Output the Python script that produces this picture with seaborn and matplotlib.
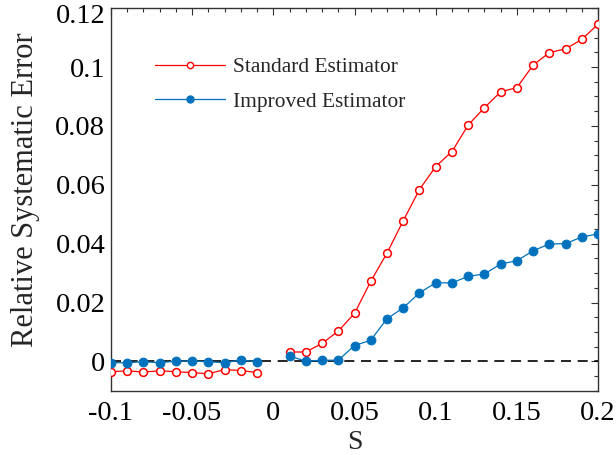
import numpy as np
import pandas as pd
import matplotlib
matplotlib.use("Agg")
import matplotlib.pyplot as plt
import seaborn as sns
from matplotlib.ticker import MultipleLocator, FuncFormatter
from matplotlib.lines import Line2D
import matplotlib.transforms as mtransforms

# Data
s_neg = [-0.10, -0.09, -0.08, -0.07, -0.06, -0.05, -0.04, -0.03, -0.02, -0.01]
s_pos = [0.01, 0.02, 0.03, 0.04, 0.05, 0.06, 0.07, 0.08, 0.09, 0.10,
         0.11, 0.12, 0.13, 0.14, 0.15, 0.16, 0.17, 0.18, 0.19, 0.20]
std_neg = [-0.0035, -0.0032, -0.0036, -0.0032, -0.0035, -0.0038, -0.0042, -0.0028, -0.0031, -0.0038]
imp_neg = [-0.00045, -0.00045, -0.0001, -0.00045, 0.0001, 0.0001, -0.0001, -0.00045, 0.00045, -0.0001]
std_pos = [0.0032, 0.0032, 0.0061, 0.0103, 0.0163, 0.0272, 0.0368, 0.0478, 0.0584, 0.0662,
           0.0713, 0.0803, 0.0862, 0.0916, 0.0930, 0.1007, 0.1049, 0.1062, 0.1094, 0.1146]
imp_pos = [0.0018, 0.0001, 0.0004, 0.0004, 0.0054, 0.0072, 0.0145, 0.0182, 0.0233, 0.0267,
           0.0267, 0.0289, 0.0297, 0.0331, 0.0342, 0.0376, 0.0399, 0.0400, 0.0423, 0.0433]
x_ticks = [-0.1, -0.05, 0, 0.05, 0.1, 0.15, 0.2]
y_ticks = [0, 0.02, 0.04, 0.06, 0.08, 0.1, 0.12]

sns.set_style("white")
plt.rcParams['font.family'] = ['Liberation Serif', 'DejaVu Serif']

fig = plt.figure(figsize=(6.16, 4.55), dpi=100)
ax = fig.add_axes([0.180, 0.141, 0.791, 0.841])

RED = '#FF0000'
BLUE = '#0072BD'

def seg(x, y):
    return pd.DataFrame({'s': x, 'v': y})

ax.axhline(0, color='black', lw=1.2, ls=(0, (6, 4)), zorder=1)

red_kw = dict(color=RED, lw=0.9, marker='o', markersize=5.6, markerfacecolor='white',
              markeredgecolor=RED, markeredgewidth=1.1)
blue_kw = dict(color=BLUE, lw=0.9, marker='o', markersize=6.3, markerfacecolor=BLUE,
               markeredgecolor=BLUE)

sns.lineplot(data=seg(s_neg, std_neg), x='s', y='v', ax=ax, zorder=3, **red_kw)
sns.lineplot(data=seg(s_pos, std_pos), x='s', y='v', ax=ax, zorder=3, **red_kw)
sns.lineplot(data=seg(s_neg, imp_neg), x='s', y='v', ax=ax, zorder=4, **blue_kw)
sns.lineplot(data=seg(s_pos, imp_pos), x='s', y='v', ax=ax, zorder=4, **blue_kw)

ax.set_xlim(-0.1, 0.2)
ax.set_ylim(-0.01, 0.12)
ax.set_xticks(x_ticks)
ax.set_yticks(y_ticks)

def fmt(v, pos):
    return '%g' % round(v, 4)
ax.xaxis.set_major_formatter(FuncFormatter(fmt))
ax.yaxis.set_major_formatter(FuncFormatter(fmt))
ax.xaxis.set_minor_locator(MultipleLocator(0.01))
ax.yaxis.set_minor_locator(MultipleLocator(0.005))

ax.tick_params(which='both', direction='in', top=True, right=True, colors='#333333',
               labelcolor='black')
ax.tick_params(which='major', length=5, width=0.8, labelsize=20.5)
ax.tick_params(which='minor', length=3, width=0.8)
ax.tick_params(axis='x', which='major', pad=7)
ax.tick_params(axis='y', which='major', pad=4)
for sp in ax.spines.values():
    sp.set_color('#333333')
    sp.set_linewidth(1.0)

ax.set_xlabel('S', fontsize=20, labelpad=3)
ax.set_ylabel('Relative Systematic Error', fontsize=22)
ax.yaxis.set_label_coords(-0.146, 0.525)

# top y tick label sits inside the figure, as in the reference
fig.canvas.draw()
ylabs = ax.get_yticklabels()
ylabs[-1].set_va('top')
ylabs[-1].set_transform(ylabs[-1].get_transform() +
                        mtransforms.ScaledTranslation(0, 3 / 72, fig.dpi_scale_trans))

handles = [Line2D([], [], color=RED, lw=0.9, marker='o', markersize=4.5,
                  markerfacecolor='white', markeredgecolor=RED, markeredgewidth=1.0),
           Line2D([], [], color=BLUE, lw=0.9, marker='o', markersize=5,
                  markerfacecolor=BLUE, markeredgecolor=BLUE)]
ax.legend(handles, ['Standard Estimator', 'Improved Estimator'], loc='upper left',
          bbox_to_anchor=(0.090, 0.872), frameon=False, fontsize=15.4, handlelength=3.3,
          labelspacing=0.68, handletextpad=0.35, borderaxespad=0, borderpad=0, numpoints=1)

fig.savefig('out.png', dpi=100)
